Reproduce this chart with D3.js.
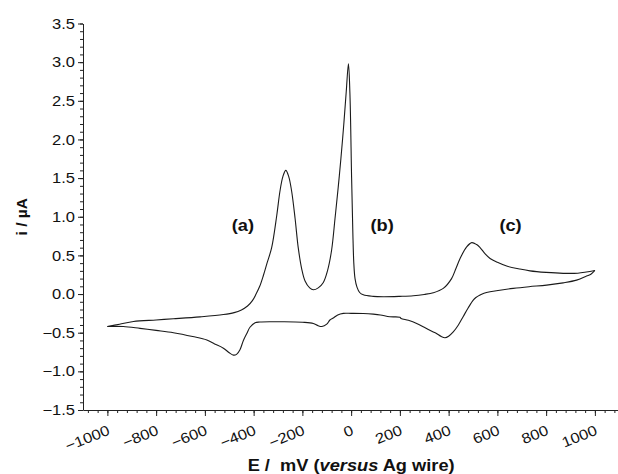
<!DOCTYPE html>
<html>
<head>
<meta charset="utf-8">
<script src="https://cdn.jsdelivr.net/npm/d3@7"></script>
<style>
  body { margin: 0; background: #fff; }
  text { font-family: "Liberation Sans", Arial, sans-serif; fill: #111; }
</style>
</head>
<body>
<svg id="chart" width="618" height="474"></svg>
<script>
// Anodic (forward) sweep, -1000 mV -> +1000 mV
const forwardE = [-1000, -950, -893, -800, -729, -620, -524, -480, -450, -425, -405, -390, -375, -360, -345, -326, -305, -292, -280, -268, -256, -244, -230, -217, -203, -189, -170, -155, -135, -114, -97, -80, -66, -53, -42, -30, -20, -11, -5, 2, 7, 11, 16, 24, 35, 50, 90, 132, 200, 255, 300, 337, 378, 412, 430, 447, 474, 495, 515, 529, 550, 570, 600, 638, 690, 734, 800, 870, 930, 965, 1000];
const forwardI = [-0.42, -0.39, -0.355, -0.335, -0.32, -0.295, -0.265, -0.24, -0.205, -0.155, -0.085, 0.0, 0.1, 0.24, 0.4, 0.6, 1.02, 1.33, 1.52, 1.60, 1.52, 1.33, 0.98, 0.6, 0.33, 0.17, 0.08, 0.055, 0.08, 0.15, 0.3, 0.57, 0.98, 1.38, 1.75, 2.2, 2.62, 2.98, 2.6, 1.5, 0.8, 0.4, 0.2, 0.09, 0.02, -0.01, -0.03, -0.035, -0.03, -0.022, -0.005, 0.017, 0.073, 0.2, 0.33, 0.46, 0.61, 0.665, 0.64, 0.6, 0.52, 0.46, 0.41, 0.362, 0.325, 0.30, 0.28, 0.268, 0.27, 0.285, 0.305];

// Cathodic (reverse) sweep, +1000 mV -> -1000 mV
const reverseE = [1000, 985, 966, 925, 870, 802, 730, 665, 610, 570, 545, 529, 512, 501, 480, 460, 440, 419, 400, 385, 370, 350, 337, 300, 269, 235, 205, 200, 159, 120, 91, 50, 0, -32, -55, -73, -87, -100, -120, -135, -155, -200, -278, -330, -374, -394, -415, -428, -442, -456, -470, -483, -500, -524, -560, -592, -650, -729, -800, -866, -935, -1000];
const reverseI = [0.305, 0.26, 0.233, 0.18, 0.145, 0.116, 0.095, 0.073, 0.05, 0.03, 0.01, -0.013, -0.045, -0.078, -0.18, -0.29, -0.40, -0.49, -0.545, -0.565, -0.55, -0.51, -0.49, -0.43, -0.38, -0.34, -0.315, -0.30, -0.294, -0.27, -0.26, -0.252, -0.25, -0.25, -0.27, -0.31, -0.336, -0.39, -0.42, -0.41, -0.38, -0.365, -0.358, -0.358, -0.362, -0.37, -0.43, -0.51, -0.60, -0.72, -0.78, -0.79, -0.76, -0.70, -0.645, -0.595, -0.55, -0.50, -0.47, -0.444, -0.42, -0.42];

// Axis ticks
const xTicks = [-1000, -800, -600, -400, -200, 0, 200, 400, 600, 800, 1000];
const xMinorTicks = d3.range(-1080, 1081, 40);
const yTicks = [-1.5, -1.0, -0.5, 0.0, 0.5, 1.0, 1.5, 2.0, 2.5, 3.0, 3.5];
const yMinorTicks = d3.range(-15, 36, 1).map(v => v / 10);

// Peak annotations
const peakNames = ["(a)", "(b)", "(c)"];
const peakLabelE = [-444, 127, 654];
const peakLabelI = [0.82, 0.82, 0.82];

const svg = d3.select("#chart");

const x = d3.scaleLinear().domain([-1100, 1100]).range([83, 619.25]);
const y = d3.scaleLinear().domain([-1.5, 3.5]).range([410, 23.5]);

// Text is drawn slightly wide, as in the original typesetting
const WIDE = 1.14;

// Minor ticks
svg.append("g")
  .attr("transform", `translate(0,${y(-1.5)})`)
  .call(d3.axisBottom(x).tickValues(xMinorTicks).tickSize(3).tickSizeOuter(0).tickFormat(""))
  .call(g => g.select(".domain").remove());
svg.append("g")
  .attr("transform", `translate(${x(-1100)},0)`)
  .call(d3.axisLeft(y).tickValues(yMinorTicks).tickSize(3).tickSizeOuter(0).tickFormat(""))
  .call(g => g.select(".domain").remove());

// Major X axis
const xAxis = svg.append("g")
  .attr("transform", `translate(0,${y(-1.5)})`)
  .call(d3.axisBottom(x).tickValues(xTicks).tickSize(6).tickSizeOuter(0).tickFormat(d3.format("d")));
xAxis.selectAll(".tick text")
  .attr("font-size", 14.5)
  .attr("text-anchor", "end")
  .attr("dy", null)
  .attr("y", 0)
  .attr("transform", `translate(3,24) rotate(-22) scale(${WIDE},1)`);

// Major Y axis
const yAxis = svg.append("g")
  .attr("transform", `translate(${x(-1100)},0)`)
  .call(d3.axisLeft(y).tickValues(yTicks).tickSize(5).tickSizeOuter(0).tickFormat(d3.format(".1f")));
yAxis.selectAll(".tick text")
  .attr("font-size", 14.5)
  .attr("x", null)
  .attr("transform", `translate(-8,0) scale(${WIDE},1)`);

svg.selectAll(".domain, .tick line").attr("stroke", "#222").attr("stroke-width", 1);

// Cyclic voltammogram
const line = d3.line()
  .x(d => x(d[0]))
  .y(d => y(d[1]))
  .curve(d3.curveCatmullRom.alpha(0.5));

const forward = forwardE.map((e, k) => [e, forwardI[k]]);
const reverse = reverseE.map((e, k) => [e, reverseI[k]]);

svg.append("path").datum(forward)
  .attr("d", line).attr("fill", "none").attr("stroke", "#1a1a1a").attr("stroke-width", 1.1);
svg.append("path").datum(reverse)
  .attr("d", line).attr("fill", "none").attr("stroke", "#1a1a1a").attr("stroke-width", 1.1);

// Peak labels
svg.selectAll("text.peak").data(peakNames).join("text")
  .attr("class", "peak")
  .attr("transform", (d, k) => `translate(${x(peakLabelE[k])},${y(peakLabelI[k])}) scale(${WIDE},1)`)
  .attr("text-anchor", "middle")
  .attr("font-size", 16)
  .attr("font-weight", "bold")
  .text(d => d);

// Axis titles
svg.append("text")
  .attr("transform", `translate(27,${(y(-1.5) + y(3.5)) / 2}) rotate(-90)`)
  .attr("text-anchor", "middle")
  .attr("font-size", 15.5)
  .attr("font-weight", "bold")
  .text("i / µA");

const xt = svg.append("text")
  .attr("transform", `translate(${x(0)},471) scale(${WIDE},1)`)
  .attr("text-anchor", "middle")
  .attr("font-size", 16)
  .attr("font-weight", "bold")
  .attr("xml:space", "preserve");
xt.append("tspan").text("E /  mV (");
xt.append("tspan").attr("font-style", "italic").text("versus");
xt.append("tspan").text(" Ag wire)");
</script>
</body>
</html>
